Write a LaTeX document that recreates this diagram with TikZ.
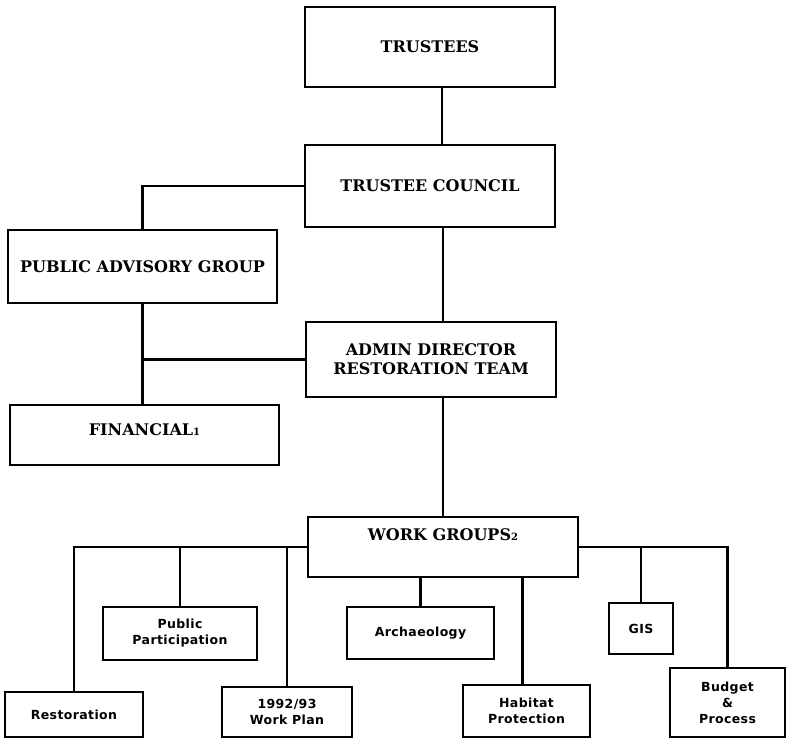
\documentclass[tikz,border=0pt]{standalone}
\usepackage{fontspec}
\newfontfamily\slab{DejaVu Serif}
\newfontfamily\grot{DejaVu Sans}[LetterSpace=3]
\begin{document}
\begin{tikzpicture}[x=1pt,y=-1pt,line width=2.2pt,
  box/.style={draw,rectangle,inner sep=0pt,align=center,line width=2.2pt},
  top/.style={box,font=\slab\bfseries\fontsize{16}{19}\selectfont},
  sub/.style={box,font=\grot\bfseries\fontsize{12.5}{16}\selectfont},
  link/.style={draw,line width=2.2pt}]
\useasboundingbox (0,0) rectangle (791,739);
\node[top,minimum width=250,minimum height=80] (trustees) at (430,47) {TRUSTEES};
\node[top,minimum width=250,minimum height=82] (council) at (430,186) {TRUSTEE COUNCIL};
\node[top,minimum width=269,minimum height=73] (pag) at (142.5,266.5) {PUBLIC ADVISORY GROUP};
\node[top,minimum width=250,minimum height=75] (admin) at (431,359.5) {ADMIN DIRECTOR\\RESTORATION TEAM};
\node[top,minimum width=269,minimum height=60,
  label={[anchor=north,yshift=-15pt,font=\slab\bfseries\fontsize{16}{19}\selectfont]north:FINANCIAL{\fontsize{10}{10}\selectfont 1}}] (fin) at (144.5,435) {};
\node[top,minimum width=270,minimum height=60,
  label={[anchor=north,yshift=-8pt,font=\slab\bfseries\fontsize{16}{19}\selectfont]north:WORK GROUPS{\fontsize{10}{10}\selectfont 2}}] (wg) at (443,547) {};
\node[sub,minimum width=138,minimum height=45] (resto) at (74,714.5) {Restoration};
\node[sub,minimum width=154,minimum height=53] (pp) at (180,633.5) {Public\\Participation};
\node[sub,minimum width=130,minimum height=50] (wp) at (287,712) {1992/93\\Work Plan};
\node[sub,minimum width=147,minimum height=52] (arch) at (420.5,633) {Archaeology};
\node[sub,minimum width=127,minimum height=52] (hab) at (526.5,711) {Habitat\\Protection};
\node[sub,minimum width=64,minimum height=51] (gis) at (641,628.5) {GIS};
\node[sub,minimum width=115,minimum height=69] (bud) at (727.5,702.5) {Budget\\\&\\Process};
\draw[link] ([xshift=12pt]trustees.south) -- ([xshift=12pt]council.north);
\draw[link] (council.west) -| (pag.north);
\draw[link] ([xshift=13pt]council.south) -- ([xshift=12pt]admin.north);
\draw[link] (pag.south) -- (pag.south |- fin.north);
\draw[link] (admin.west) -- (admin.west -| pag.south);
\draw[link] ([xshift=12pt]admin.south) -- (wg.north);
\draw[link] (wg.west) -| (resto.north);
\draw[link] (wg.west -| pp.north) -- (pp.north);
\draw[link] (wg.west -| wp.north) -- (wp.north);
\draw[link] (wg.east) -| (bud.north);
\draw[link] (wg.east -| gis.north) -- (gis.north);
\draw[link] (wg.south -| arch.north) -- (arch.north);
\draw[link] ([xshift=-4pt]wg.south -| hab.north) -- ([xshift=-4pt]hab.north);
\end{tikzpicture}
\end{document}
